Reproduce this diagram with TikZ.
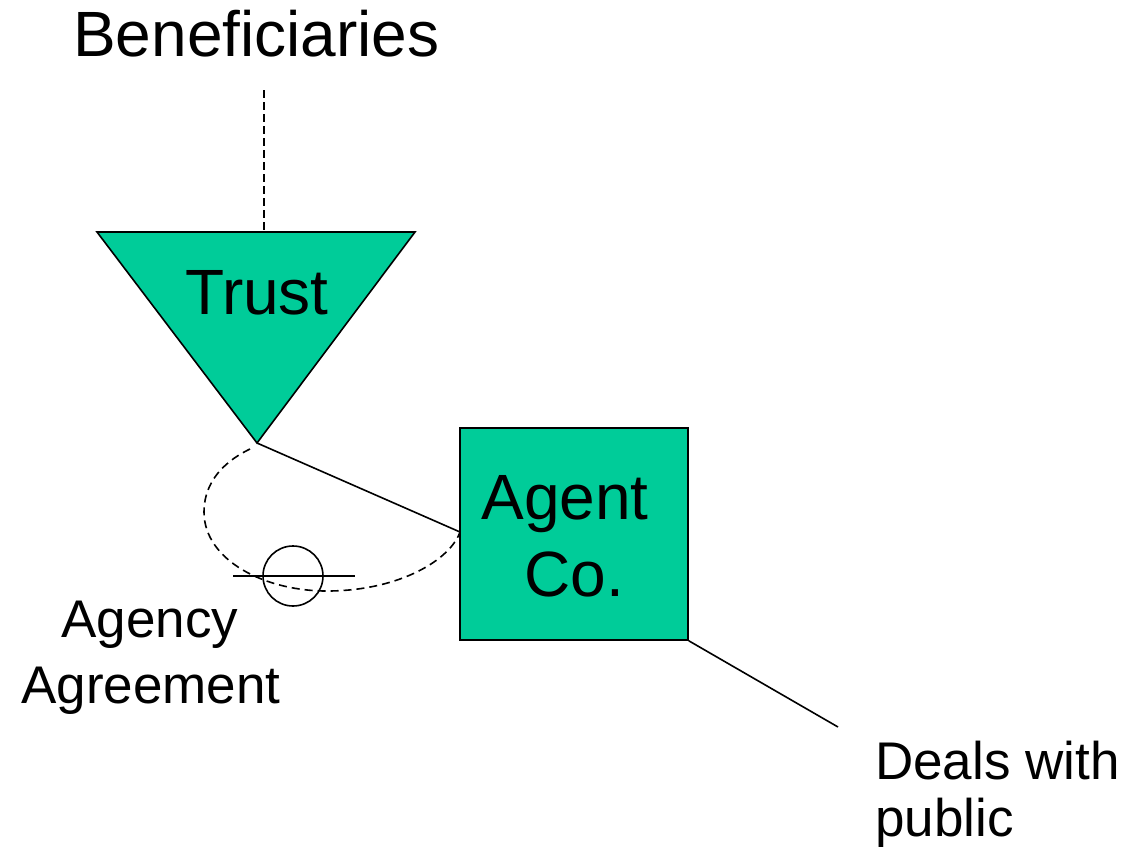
\documentclass[tikz,border=0pt]{standalone}
\usepackage{fontspec}
\setmainfont{Liberation Sans}
\definecolor{trustgreen}{HTML}{00CC99}
\begin{document}
\begin{tikzpicture}[x=1pt,y=-1pt,
  big/.style={font=\fontsize{64}{77}\selectfont, inner sep=0pt},
  small/.style={font=\fontsize{53}{64}\selectfont, inner sep=0pt},
  thinline/.style={line width=1.6pt},
  dashline/.style={line width=1.6pt, dash pattern=on 8pt off 5pt}]
\useasboundingbox (0,0) rectangle (1127,851);
% trust triangle
\coordinate (tl) at (97,232);
\coordinate (tr) at (415,232);
\coordinate (apex) at (257,443);
\filldraw[fill=trustgreen, thinline] (tl) -- (tr) -- (apex) -- cycle;
\node[big, anchor=base] (trust) at (257,314) {Trust};
% beneficiaries
\node[big, anchor=base west] (benef) at (73,57) {Beneficiaries};
\coordinate (bdtop) at (264,90);
\coordinate (bdbot) at (264,232);
\draw[line width=1.6pt, dash pattern=on 8pt off 4pt] (bdtop) -- (bdbot);
% agent box
\node[draw, fill=trustgreen, thinline, minimum width=228pt, minimum height=212pt, inner sep=0pt] (agent) at (574,534) {};
\node[big, anchor=base] (agentt) at (565,519) {Agent};
\node[big, anchor=base] (cot) at (574,596) {Co.};
\coordinate (agentL) at (460,532);
\draw[thinline] (apex) -- (agentL);
% deals with public
\coordinate (dealsend) at (838,727);
\draw[thinline] (agent.south east) -- (dealsend);
\node[small, anchor=base west] (deals) at (875,779) {Deals with};
\node[small, anchor=base west] (public) at (875,836) {public};
% agency agreement loop
\coordinate (loopstart) at (250,449);
\draw[dashline] (loopstart) .. controls (215,466) and (204,490) .. (204,512)
  .. controls (204,560) and (265,592) .. (330,591)
  .. controls (400,590) and (450,560) .. (agentL);
\node[draw, circle, thinline, minimum size=60pt, inner sep=0pt] (seal) at (293,576) {};
\coordinate (barL) at (233,576);
\coordinate (barR) at (355,576);
\draw[thinline] (barL) -- (barR);
\node[small, anchor=base] (agency) at (150,637) {Agency};
\node[small, anchor=base] (agreement) at (151,703) {Agreement};
\end{tikzpicture}
\end{document}
